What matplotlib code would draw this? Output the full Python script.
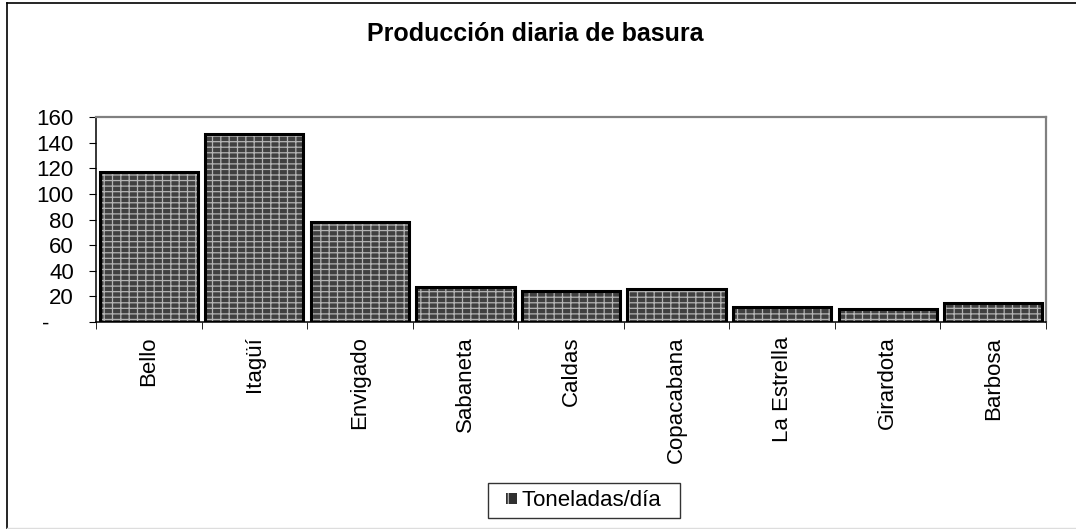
import matplotlib
matplotlib.use("Agg")
import matplotlib.pyplot as plt
import matplotlib.patches as mpatches
from matplotlib.legend_handler import HandlerPatch
from matplotlib.lines import Line2D
import numpy as np

# datos
municipios = ["Bello", "Itagüí", "Envigado", "Sabaneta", "Caldas",
              "Copacabana", "La Estrella", "Girardota", "Barbosa"]
toneladas = [117, 147, 78, 27, 24, 26, 12, 10, 15]
y_ticks = [0, 20, 40, 60, 80, 100, 120, 140, 160]

plt.rcParams['font.family'] = ['Liberation Sans', 'DejaVu Sans']
plt.rcParams['hatch.linewidth'] = 0.9

RELLENO = '#404040'
TRAMA = '#b4b4b4'
PATRON = '---||'

fig = plt.figure(figsize=(10.76, 5.29), dpi=100)
ax = fig.add_axes([96/1076, 1 - 322/529, 950/1076, 205/529])

x = np.arange(len(municipios))
# relleno con trama (ladrillo aproximado)
ax.bar(x, toneladas, width=0.93, color=RELLENO, edgecolor=TRAMA,
       hatch=PATRON, linewidth=0, zorder=2)
# borde negro
ax.bar(x, toneladas, width=0.93, fill=False, edgecolor='black',
       linewidth=2.2, zorder=3)

ax.set_xlim(-0.5, len(municipios) - 0.5)
ax.set_ylim(0, 160)
ax.set_yticks(y_ticks)
ax.set_yticklabels(["-    "] + [str(v) for v in y_ticks[1:]], fontsize=16)

ax.set_xticks(x)
ax.set_xticklabels(municipios, rotation=90, fontsize=16)
ax.tick_params(axis='x', which='major', length=0, pad=10.5)
ax.set_xticks(np.arange(len(municipios) + 1) - 0.5, minor=True)
ax.tick_params(axis='x', which='minor', length=5, direction='out', color='black')
ax.tick_params(axis='y', length=5, direction='out', color='black', pad=11)

for s in ['top', 'right']:
    ax.spines[s].set_color('#808080')
    ax.spines[s].set_linewidth(1.6)
for s in ['left', 'bottom']:
    ax.spines[s].set_color('black')
    ax.spines[s].set_linewidth(1.1)

fig.text(535/1076, 1 - 41/529, "Producción diaria de basura", ha='center', va='baseline',
         fontsize=18, fontweight='bold')


# cuadrito pequeño de la leyenda, alineado a la derecha de su caja
def cuadrito(legend, orig_handle, xdescent, ydescent, width, height, fontsize):
    lado = 8.0
    return mpatches.Rectangle((-xdescent + width - lado, -ydescent + (height - lado) / 2),
                              lado, lado)


proxy = mpatches.Patch(facecolor='#303030', edgecolor=TRAMA, hatch='-|', linewidth=0)
leg = fig.legend([proxy], ["Toneladas/día  "], loc='center',
                 bbox_to_anchor=(584/1076, 1 - 500.5/529),
                 fontsize=16, frameon=True, fancybox=False, handlelength=1.0,
                 handleheight=0.7, handletextpad=0.25, borderpad=0.3,
                 handler_map={mpatches.Patch: HandlerPatch(patch_func=cuadrito)})
leg.get_frame().set_edgecolor('black')
leg.get_frame().set_linewidth(1)

# borde del gráfico
fig.add_artist(Line2D([7/1076, 7/1076], [0, 1 - 3/529], color='black', lw=1.2, transform=fig.transFigure))
fig.add_artist(Line2D([7/1076, 1], [1 - 3/529, 1 - 3/529], color='black', lw=1.2, transform=fig.transFigure))
fig.add_artist(Line2D([7/1076, 1], [1/529, 1/529], color='#dddddd', lw=1, transform=fig.transFigure))

plt.savefig('out.png', dpi=100)
